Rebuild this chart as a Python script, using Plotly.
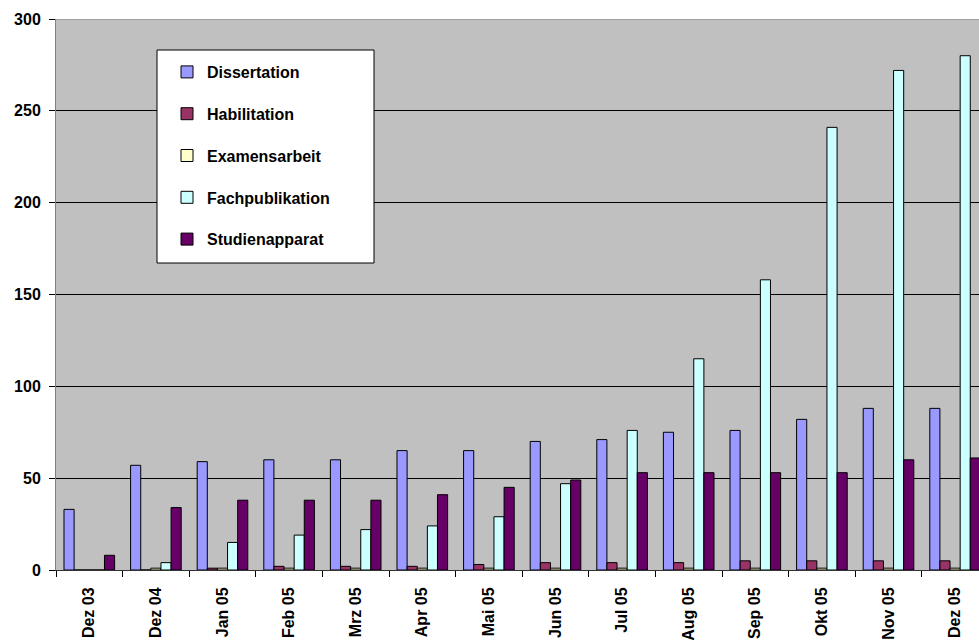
import plotly.graph_objects as go

# Monthly counts per publication type
months = ["Dez 03", "Dez 04", "Jan 05", "Feb 05", "Mrz 05", "Apr 05", "Mai 05",
          "Jun 05", "Jul 05", "Aug 05", "Sep 05", "Okt 05", "Nov 05", "Dez 05"]
dissertation = [33, 57, 59, 60, 60, 65, 65, 70, 71, 75, 76, 82, 88, 88]
habilitation = [0, 0, 1, 2, 2, 2, 3, 4, 4, 4, 5, 5, 5, 5]
examensarbeit = [0, 1, 1, 1, 1, 1, 1, 1, 1, 1, 1, 1, 1, 1]
fachpublikation = [0, 4, 15, 19, 22, 24, 29, 47, 76, 115, 158, 241, 272, 280]
studienapparat = [8, 34, 38, 38, 38, 41, 45, 49, 53, 53, 53, 53, 60, 61]

series = [
    ("Dissertation", dissertation, "#9999FF"),
    ("Habilitation", habilitation, "#993366"),
    ("Examensarbeit", examensarbeit, "#FFFFCC"),
    ("Fachpublikation", fachpublikation, "#CCFFFF"),
    ("Studienapparat", studienapparat, "#660066"),
]

FONT = "Liberation Sans, Arial, sans-serif"
W, H = 979, 644
ML, MT, MB = 56, 19, 74

fig = go.Figure()
for i, (name, vals, color) in enumerate(series):
    fig.add_trace(go.Bar(
        x=months, y=vals, name=name, legendgroup=name,
        marker=dict(color=color, line=dict(color="#000000", width=1)),
    ))

# the plot area runs slightly past the right edge of the page
cat_px = 66.6
n = len(months)
xmax = n - 0.5 - (ML + n * cat_px - W) / cat_px

fig.update_layout(
    width=W, height=H,
    margin=dict(l=ML, r=0, t=MT, b=MB, pad=0, autoexpand=False),
    paper_bgcolor="#FFFFFF",
    plot_bgcolor="#C0C0C0",
    barmode="group",
    bargap=0.24,
    bargroupgap=0,
    font=dict(family=FONT, size=16, color="#000000"),
    showlegend=True,
    legend=dict(
        x=(167 - ML) / (W - ML), y=1 - (55 - MT) / (H - MT - MB),
        xref="paper", yref="paper",
        xanchor="left", yanchor="top",
        bgcolor="rgba(0,0,0,0)", borderwidth=0,
        font=dict(family=FONT, size=16, color="#000000", weight="bold"),
        tracegroupgap=18,
        traceorder="grouped",
    ),
    xaxis=dict(
        type="category",
        range=[-0.5, xmax],
        automargin=False,
        showgrid=False,
        tickson="boundaries",
        ticks="outside", ticklen=6, tickcolor="#000000", tickwidth=1,
        tickangle=-90,
        tickfont=dict(family=FONT, size=16, color="#000000", weight="bold"),
        showline=True, linecolor="#333333", linewidth=1,
        zeroline=False,
        ticklabelstandoff=10,
    ),
    yaxis=dict(
        range=[0, 300],
        automargin=False,
        tickvals=[0, 50, 100, 150, 200, 250, 300],
        showgrid=True, gridcolor="#000000", gridwidth=1,
        ticks="outside", ticklen=6, tickcolor="#000000",
        tickfont=dict(family=FONT, size=16, color="#000000", weight="bold"),
        showline=True, linecolor="#808080", linewidth=1,
        zeroline=False,
        ticklabelstandoff=5,
    ),
    shapes=[
        # plot-area top border
        dict(type="line", xref="paper", yref="y", x0=0, x1=1, y0=300, y1=300,
             line=dict(color="#808080", width=1), layer="above"),
        # legend frame
        dict(type="rect", xref="paper", yref="paper",
             x0=(157 - ML) / (W - ML), x1=(374 - ML) / (W - ML),
             y0=1 - (263 - MT) / (H - MT - MB), y1=1 - (50 - MT) / (H - MT - MB),
             fillcolor="#FFFFFF", line=dict(color="#000000", width=1), layer="above"),
    ],
)

fig.write_html("out.html")
